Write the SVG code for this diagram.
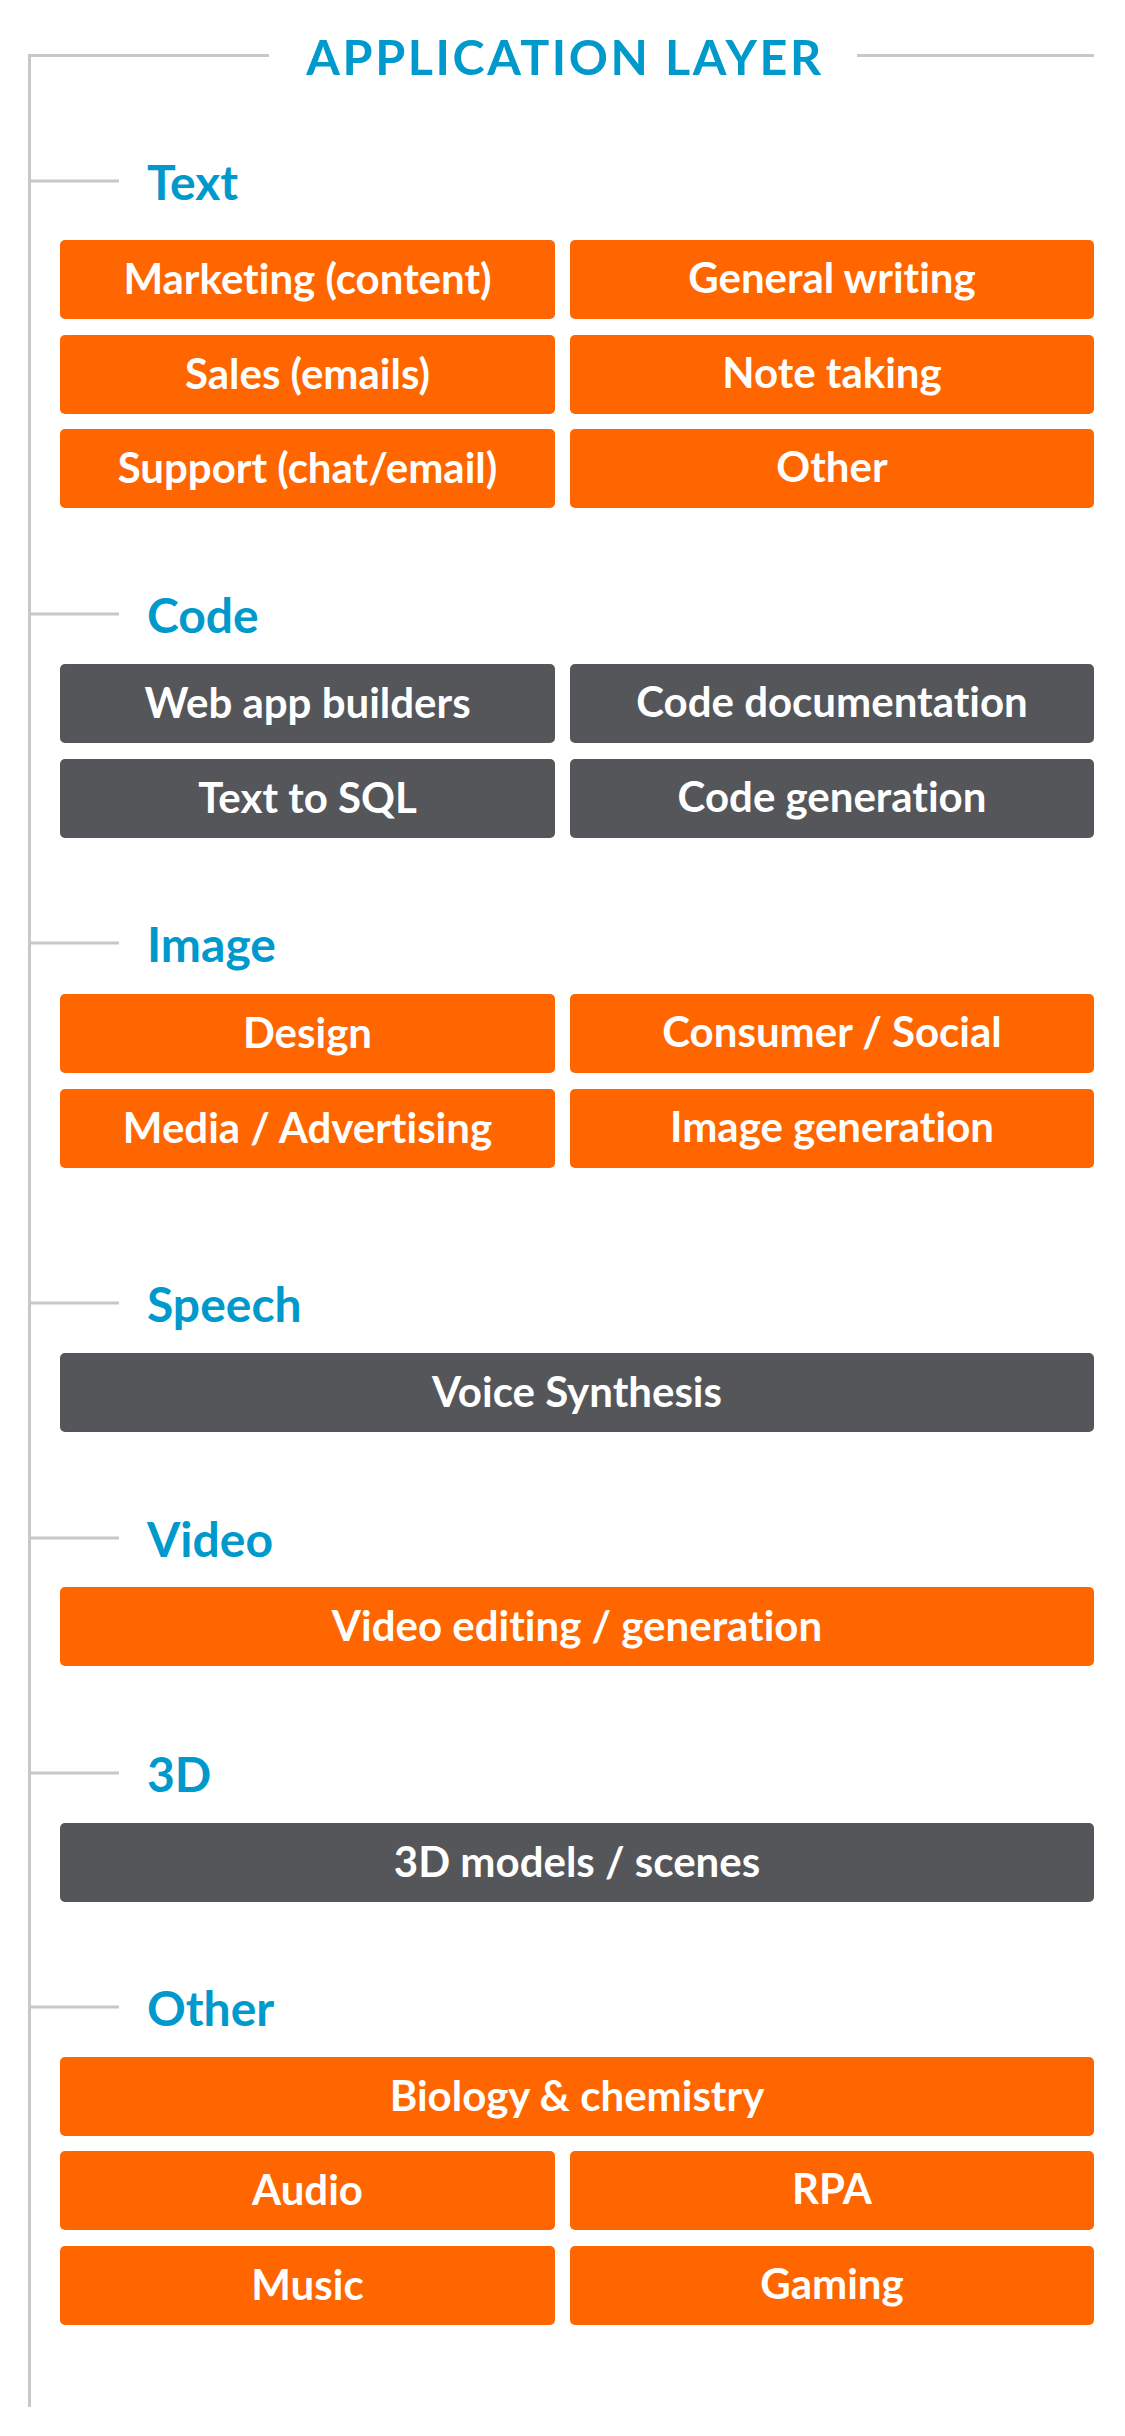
<svg xmlns="http://www.w3.org/2000/svg" width="1125" height="2436" viewBox="0 0 1125 2436">
  <style>
    .rail { stroke: #c8c8c8; stroke-width: 3; fill: none; }
    text { font-family: Lato, "Liberation Sans", sans-serif; font-weight: 700; font-variant-ligatures: none; }
    .title { font-size: 48.5px; fill: #0099cc; letter-spacing: 2.6px; }
    .cat { font-size: 48px; fill: #0099cc; }
    .lbl { font-size: 42px; fill: #ffffff; text-anchor: middle; }
    .orange { fill: #ff6600; }
    .grey { fill: #55565a; }
  </style>
  <rect width="1125" height="2436" fill="#ffffff"/>

  <!-- rails and section ticks -->
  <g id="connectors">
    <path class="rail" d="M269 55.5 H29.5 V2407"/>
    <path class="rail" d="M857 55.5 H1094"/>
    <path class="rail" d="M29.5 181 H119"/>
    <path class="rail" d="M29.5 614 H119"/>
    <path class="rail" d="M29.5 943 H119"/>
    <path class="rail" d="M29.5 1303 H119"/>
    <path class="rail" d="M29.5 1538 H119"/>
    <path class="rail" d="M29.5 1773 H119"/>
    <path class="rail" d="M29.5 2007 H119"/>
  </g>

  <g id="title">
    <text class="title" x="565" y="75" text-anchor="middle">APPLICATION LAYER</text>
  </g>

  <!-- Text -->
  <g id="sec-text">
    <text class="cat" x="147" y="200">Text</text>
  </g>
  <g id="marketing"><rect class="orange" x="60" y="240" width="495" height="79" rx="5"/><text class="lbl" x="307.5" y="294">Marketing (content)</text></g>
  <g id="general-writing"><rect class="orange" x="570" y="240" width="524" height="79" rx="5"/><text class="lbl" x="832" y="293">General writing</text></g>
  <g id="sales"><rect class="orange" x="60" y="335" width="495" height="79" rx="5"/><text class="lbl" x="307.5" y="389">Sales (emails)</text></g>
  <g id="note-taking"><rect class="orange" x="570" y="335" width="524" height="79" rx="5"/><text class="lbl" x="832" y="388">Note taking</text></g>
  <g id="support"><rect class="orange" x="60" y="429" width="495" height="79" rx="5"/><text class="lbl" x="307.5" y="483">Support (chat/email)</text></g>
  <g id="text-other"><rect class="orange" x="570" y="429" width="524" height="79" rx="5"/><text class="lbl" x="832" y="482">Other</text></g>

  <!-- Code -->
  <g id="sec-code">
    <text class="cat" x="147" y="633">Code</text>
  </g>
  <g id="web-app"><rect class="grey" x="60" y="664" width="495" height="79" rx="5"/><text class="lbl" x="307.5" y="718">Web app builders</text></g>
  <g id="code-doc"><rect class="grey" x="570" y="664" width="524" height="79" rx="5"/><text class="lbl" x="832" y="717">Code documentation</text></g>
  <g id="text-sql"><rect class="grey" x="60" y="759" width="495" height="79" rx="5"/><text class="lbl" x="307.5" y="813">Text to SQL</text></g>
  <g id="code-gen"><rect class="grey" x="570" y="759" width="524" height="79" rx="5"/><text class="lbl" x="832" y="812">Code generation</text></g>

  <!-- Image -->
  <g id="sec-image">
    <text class="cat" x="147" y="962">Image</text>
  </g>
  <g id="design"><rect class="orange" x="60" y="994" width="495" height="79" rx="5"/><text class="lbl" x="307.5" y="1048">Design</text></g>
  <g id="consumer"><rect class="orange" x="570" y="994" width="524" height="79" rx="5"/><text class="lbl" x="832" y="1047">Consumer / Social</text></g>
  <g id="media"><rect class="orange" x="60" y="1089" width="495" height="79" rx="5"/><text class="lbl" x="307.5" y="1143">Media / Advertising</text></g>
  <g id="image-gen"><rect class="orange" x="570" y="1089" width="524" height="79" rx="5"/><text class="lbl" x="832" y="1142">Image generation</text></g>

  <!-- Speech -->
  <g id="sec-speech">
    <text class="cat" x="147" y="1322">Speech</text>
  </g>
  <g id="voice"><rect class="grey" x="60" y="1353" width="1034" height="79" rx="5"/><text class="lbl" x="577" y="1407">Voice Synthesis</text></g>

  <!-- Video -->
  <g id="sec-video">
    <text class="cat" x="147" y="1557">Video</text>
  </g>
  <g id="video-edit"><rect class="orange" x="60" y="1587" width="1034" height="79" rx="5"/><text class="lbl" x="577" y="1641">Video editing / generation</text></g>

  <!-- 3D -->
  <g id="sec-3d">
    <text class="cat" x="147" y="1792">3D</text>
  </g>
  <g id="models"><rect class="grey" x="60" y="1823" width="1034" height="79" rx="5"/><text class="lbl" x="577" y="1877">3D models / scenes</text></g>

  <!-- Other -->
  <g id="sec-other">
    <text class="cat" x="147" y="2026">Other</text>
  </g>
  <g id="biology"><rect class="orange" x="60" y="2057" width="1034" height="79" rx="5"/><text class="lbl" x="577" y="2111">Biology &amp; chemistry</text></g>
  <g id="audio"><rect class="orange" x="60" y="2151" width="495" height="79" rx="5"/><text class="lbl" x="307.5" y="2205">Audio</text></g>
  <g id="rpa"><rect class="orange" x="570" y="2151" width="524" height="79" rx="5"/><text class="lbl" x="832" y="2204">RPA</text></g>
  <g id="music"><rect class="orange" x="60" y="2246" width="495" height="79" rx="5"/><text class="lbl" x="307.5" y="2300">Music</text></g>
  <g id="gaming"><rect class="orange" x="570" y="2246" width="524" height="79" rx="5"/><text class="lbl" x="832" y="2299">Gaming</text></g>
</svg>
